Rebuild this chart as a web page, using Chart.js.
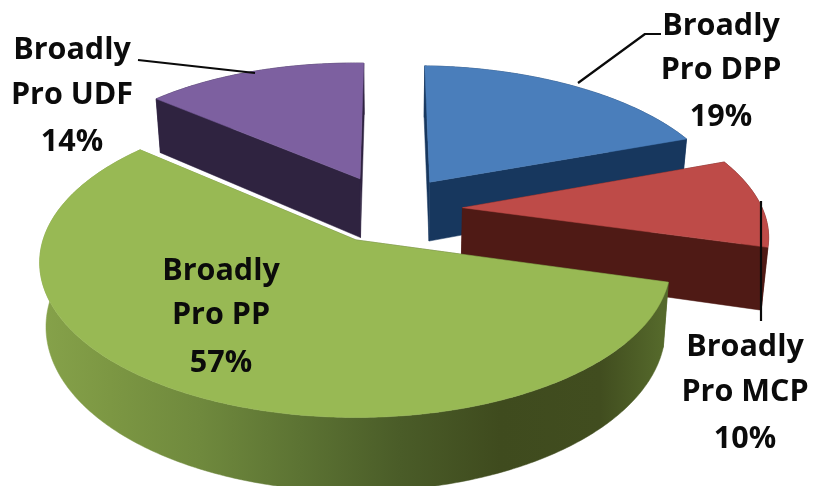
<!DOCTYPE html>
<html>
<head>
<meta charset="utf-8">
<style>html,body{margin:0;padding:0;background:#fff;overflow:hidden}canvas{display:block;filter:blur(0.45px)}</style>
<script src="https://cdn.jsdelivr.net/npm/chart.js@4"></script>
</head>
<body>
<canvas id="c" width="813" height="486"></canvas>
<script>
const categories = ['Broadly Pro DPP', 'Broadly Pro MCP', 'Broadly Pro PP', 'Broadly Pro UDF'];
const shares = [19, 10, 57, 14];
const topColors = ['#4a7ebb', '#be4b48', '#98b954', '#7d60a0'];
const wallColors = ['#17375e', '#4f1a15', '#5d7234', '#2f2340'];
const paintOrder = [3, 0, 1, 2];
const labelLines = [['Broadly', 'Pro DPP'], ['Broadly', 'Pro MCP'], ['Broadly', 'Pro PP'], ['Broadly', 'Pro UDF']];
const labelCentreX = [721, 745, 221, 72];
const labelBaselines = [[35, 79, 126], [356, 401, 448], [280, 324, 372], [59, 104, 151]];
const leaderLines = [
  [[661, 34], [645, 34], [578, 83]],
  [[761, 201], [761, 321]],
  [[138, 60], [255, 73]]
];
const greenWallStops = [[40,'#86a24a'],[110,'#7c9743'],[200,'#6f893d'],[300,'#5c7333'],[400,'#4a5c28'],[500,'#3f4b1e'],[600,'#414d1f'],[662,'#55692b']];

const XSCALE = 2.14, YSCALE = 1.0, PERSP = 0.148, DEPTH = 0.43, TAPER = 0.982, OFFSET_PX = 136, TILT = 0.025, SKEW = 0.0;

function project(el, U, V, down) {
  const R = el.outerRadius, w = 1 - PERSP * V;
  let x = el.x + XSCALE * R * U / w - SKEW * R * V;
  let y = el.y + YSCALE * R * V / w + TILT * R * U;
  if (down) { x = el.x + (x - el.x) * TAPER; y += DEPTH * R / w; }
  return [x, y];
}
function outline(el) {
  const p = el.getProps(['x','y','startAngle','endAngle','outerRadius'], true);
  const mid = (p.startAngle + p.endAngle) / 2;
  const d = (el.options.offset / 4) / p.outerRadius;
  const u0 = d * Math.cos(mid), v0 = d * Math.sin(mid);
  const steps = Math.ceil((p.endAngle - p.startAngle) * 90);
  const arc = [];
  for (let i = 0; i <= steps; i++) {
    const a = p.startAngle + (p.endAngle - p.startAngle) * i / steps;
    arc.push([u0 + Math.cos(a), v0 + Math.sin(a)]);
  }
  return {p, apex: [u0, v0], arc};
}
function fillPoly(ctx, pts, fill) {
  ctx.beginPath();
  pts.forEach((q, i) => i ? ctx.lineTo(q[0], q[1]) : ctx.moveTo(q[0], q[1]));
  ctx.closePath();
  ctx.fillStyle = fill;
  ctx.fill();
  ctx.strokeStyle = fill;
  ctx.lineWidth = 0.5;
  ctx.stroke();
}
const pie3d = {
  id: 'pie3d',
  beforeDatasetsDraw(chart) {
    const ctx = chart.ctx, arcs = chart.getDatasetMeta(0).data;
    paintOrder.forEach(i => {
      const o = outline(arcs[i]), P = o.p;
      const top = o.arc.map(q => project(P, q[0], q[1], false));
      const bot = o.arc.map(q => project(P, q[0], q[1], true));
      const at = project(P, o.apex[0], o.apex[1], false), ab = project(P, o.apex[0], o.apex[1], true);
      let wall = wallColors[i];
      if (i === 2) {
        const a = greenWallStops[0][0], b = greenWallStops[greenWallStops.length-1][0];
        wall = ctx.createLinearGradient(a, 0, b, 0);
        greenWallStops.forEach(s => wall.addColorStop((s[0]-a)/(b-a), s[1]));
      }
      fillPoly(ctx, top.concat(bot.slice().reverse()), wall);
      fillPoly(ctx, [at, top[0], bot[0], ab], wall);
      fillPoly(ctx, [at, top[top.length-1], bot[bot.length-1], ab], wall);
      fillPoly(ctx, [at].concat(top), arcs[i].options.backgroundColor);
    });
    ctx.save();
    ctx.strokeStyle = '#0a0a0a';
    ctx.lineWidth = 2.2;
    ctx.lineJoin = 'round';
    leaderLines.forEach(l => {
      ctx.beginPath();
      l.forEach((q, i) => i ? ctx.lineTo(q[0], q[1]) : ctx.moveTo(q[0], q[1]));
      ctx.stroke();
    });
    ctx.fillStyle = '#0b0b0b';
    ctx.font = 'bold 30.5px "Open Sans"';
    ctx.textAlign = 'center';
    ctx.textBaseline = 'alphabetic';
    shares.forEach((v, i) => {
      const lines = labelLines[i].concat(v + '%');
      lines.forEach((t, j) => ctx.fillText(t, labelCentreX[i], labelBaselines[i][j]));
    });
    ctx.restore();
    return false;
  }
};
new Chart(document.getElementById('c'), {
  type: 'pie',
  data: {
    labels: categories,
    datasets: [{ data: shares, backgroundColor: topColors, borderWidth: 0, offset: OFFSET_PX }]
  },
  options: {
    responsive: false,
    animation: false,
    rotation: 0,
    layout: { padding: { right: 33, bottom: 68 } },
    plugins: { legend: { display: false }, tooltip: { enabled: false } }
  },
  plugins: [pie3d]
});
</script>
</body>
</html>
